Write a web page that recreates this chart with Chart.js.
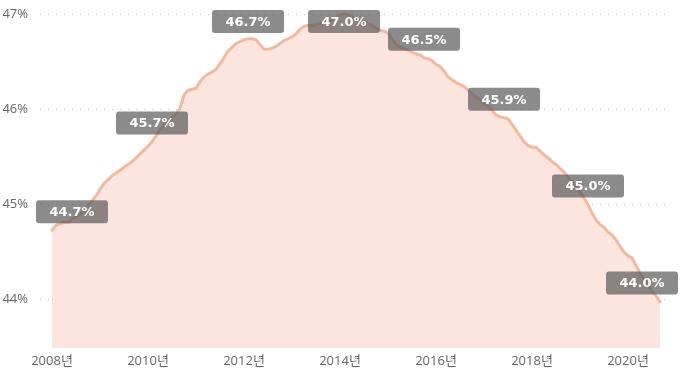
<!DOCTYPE html>
<html>
<head>
<meta charset="utf-8">
<script src="https://cdn.jsdelivr.net/npm/chart.js@4/dist/chart.umd.min.js"></script>
<style>
    html, body { margin: 0; padding: 0; background: #ffffff; }
    canvas { display: block; }
</style>
</head>
<body>
<canvas id="shareChart" width="695" height="372"></canvas>
<script>
// ---------- data (monthly, starting Jan 2008) ----------
const startYear = 2008;
const shareValues = [
    44.73, 44.78, 44.80, 44.81, 44.81, 44.85, 44.87, 44.90, 44.93, 44.99, 45.04, 45.09,
    45.16, 45.22, 45.26, 45.30, 45.33, 45.36, 45.39, 45.42, 45.45, 45.49, 45.53, 45.57,
    45.61, 45.66, 45.72, 45.78, 45.83, 45.87, 45.91, 45.95, 46.01, 46.15, 46.20, 46.21,
    46.22, 46.29, 46.34, 46.37, 46.39, 46.42, 46.48, 46.54, 46.61, 46.65, 46.69, 46.71,
    46.73, 46.74, 46.74, 46.73, 46.68, 46.63, 46.63, 46.64, 46.66, 46.69, 46.72, 46.74,
    46.76, 46.79, 46.84, 46.87, 46.88, 46.88, 46.89, 46.90, 46.91, 46.92, 46.94, 46.96,
    46.99, 47.00, 46.99, 46.97, 46.95, 46.94, 46.92, 46.90, 46.88, 46.85, 46.83, 46.82,
    46.80, 46.74, 46.68, 46.65, 46.64, 46.62, 46.60, 46.58, 46.57, 46.54, 46.53, 46.51,
    46.47, 46.45, 46.40, 46.34, 46.31, 46.28, 46.26, 46.24, 46.20, 46.16, 46.13, 46.10,
    46.06, 46.03, 45.99, 45.94, 45.92, 45.91, 45.90, 45.84, 45.78, 45.72, 45.66, 45.62,
    45.60, 45.60, 45.56, 45.52, 45.49, 45.45, 45.42, 45.38, 45.34, 45.29, 45.24, 45.19,
    45.13, 45.07, 45.00, 44.91, 44.84, 44.79, 44.76, 44.71, 44.68, 44.63, 44.56, 44.50,
    44.46, 44.44, 44.36, 44.28, 44.22, 44.16, 44.09, 44.04, 43.98
];
const labelIndexes = [0, 25, 49, 73, 93, 113, 134, 152];   // points that carry a data label
const tickYears = [2008, 2010, 2012, 2014, 2016, 2018, 2020];
const yTicks = [44, 45, 46, 47];

// month labels for each value
const months = shareValues.map((v, i) => {
    const y = startYear + Math.floor(i / 12);
    const m = (i % 12) + 1;
    return y + '-' + String(m).padStart(2, '0');
});

// ---------- data label boxes ----------
const labelBoxes = {
    id: 'labelBoxes',
    afterDatasetsDraw(chart) {
        const ctx = chart.ctx;
        const area = chart.chartArea;
        const meta = chart.getDatasetMeta(0);
        const w = 72, h = 23;
        ctx.save();
        ctx.font = 'bold 13px "DejaVu Sans", sans-serif';
        ctx.textAlign = 'center';
        ctx.textBaseline = 'middle';
        labelIndexes.forEach(i => {
            const pt = meta.data[i];
            let cx = Math.max(pt.x, area.left - 4 + w / 2);
            cx = Math.min(cx, area.right + 8 - w / 2);
            const cy = Math.max(pt.y - 18.5, 10 + h / 2);
            ctx.fillStyle = 'rgba(90, 90, 90, 0.7)';
            ctx.beginPath();
            ctx.roundRect(cx - w / 2, cy - h / 2, w, h, 3);
            ctx.fill();
            ctx.fillStyle = '#ffffff';
            ctx.fillText(shareValues[i].toFixed(1) + '%', cx, cy + 1);
        });
        ctx.restore();
    }
};

// ---------- chart ----------
const tickFont = { family: '"Open Sans", "Noto Sans CJK KR", sans-serif', size: 13 };

new Chart(document.getElementById('shareChart'), {
    type: 'line',
    data: {
        datasets: [{
            data: shareValues.map((v, i) => ({ x: i, y: v, month: months[i] })),
            borderColor: '#F2B9A1',
            backgroundColor: '#FBE5DE',
            borderWidth: 3,
            borderJoinStyle: 'round',
            borderCapStyle: 'round',
            pointRadius: 0,
            tension: 0,
            fill: 'start',
            clip: false
        }]
    },
    options: {
        responsive: false,
        animation: false,
        layout: { padding: { top: 14, right: 25, left: 0, bottom: 0 } },
        plugins: {
            legend: { display: false },
            tooltip: { enabled: false }
        },
        scales: {
            x: {
                type: 'linear',
                min: -3,
                max: 154.5,
                grid: { display: false, drawTicks: false },
                border: { display: false },
                afterBuildTicks: s => { s.ticks = tickYears.map(y => ({ value: (y - startYear) * 12 })); },
                afterFit: s => { s.height = 24; s.paddingLeft = 0; s.paddingRight = 0; },
                ticks: {
                    color: '#666666',
                    font: tickFont,
                    padding: 5,
                    maxRotation: 0,
                    autoSkip: false,
                    callback: v => (startYear + v / 12) + '년'
                }
            },
            y: {
                min: 43.493,
                max: 47,
                grid: {
                    color: '#BDBDBD',
                    lineWidth: 1,
                    drawTicks: false
                },
                border: { display: false, dash: [1, 7] },
                afterBuildTicks: s => { s.ticks = yTicks.map(v => ({ value: v })); },
                afterFit: s => { s.width = 40; s.paddingTop = 0; s.paddingBottom = 0; },
                ticks: {
                    color: '#666666',
                    font: tickFont,
                    padding: 12,
                    callback: v => v + '%'
                }
            }
        }
    },
    plugins: [labelBoxes]
});
</script>
</body>
</html>
